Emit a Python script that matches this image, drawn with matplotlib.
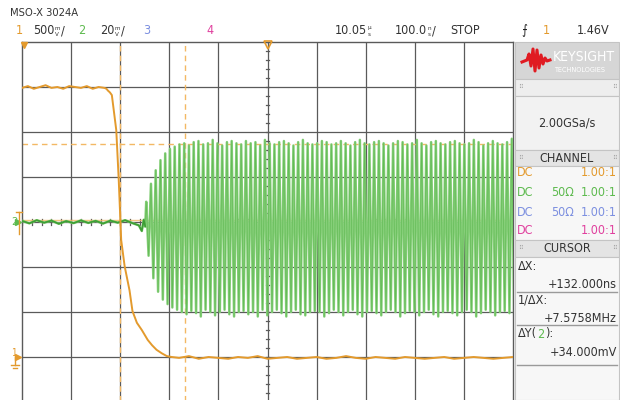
import numpy as np
import matplotlib.pyplot as plt
from matplotlib.patches import Rectangle

# scope settings
ns_per_div = 100.0
ch1_v_per_div = 0.5
ch1_ground_div = -3.0
ch2_mv_per_div = 20.0

# channel 1 (orange): time in ns from screen centre, volts
ch1_t = [-500, -488, -476, -464, -452, -440, -428, -416, -404, -392, -380, -368,
         -356, -344, -332, -328, -325, -321, -317, -308, -303, -298, -291, -281,
         -275, -266, -256, -244, -235, -226, -215, -205, -195, -180, -160, -140,
         -120, -100, -80, -60, -40, -20, 0, 20, 40, 60, 80, 100, 120, 140, 160,
         180, 200, 220, 240, 260, 280, 300, 320, 340, 360, 380, 400, 420, 440,
         460, 480, 500]
ch1_v = [2.99, 3.01, 2.98, 3.00, 3.02, 2.99, 3.00, 2.98, 3.01, 3.00, 2.99, 3.01,
         2.98, 3.00, 2.99, 2.98, 2.96, 2.94, 2.91, 2.52, 1.97, 1.30, 1.01, 0.74,
         0.51, 0.38, 0.30, 0.19, 0.13, 0.08, 0.04, 0.01, 0.00, -0.01, 0.01, -0.02,
         0.00, -0.01, -0.02, 0.00, -0.01, 0.01, -0.02, -0.01, 0.00, -0.02, -0.01,
         0.00, -0.02, -0.01, 0.01, -0.01, -0.02, 0.00, -0.01, -0.02, 0.00, -0.01,
         -0.02, -0.01, 0.00, -0.02, -0.01, 0.00, -0.01, -0.02, -0.01, 0.00]

# channel 2 (green), quiet part before the burst, mV
ch2_quiet_t = [-500, -485, -470, -455, -440, -425, -410, -395, -380, -365, -350,
               -335, -320, -305, -290, -275, -262, -256, -252, -249]
ch2_quiet_mv = [0.5, -0.6, 0.8, -0.3, 0.6, -0.8, 0.4, -0.5, 0.7, -0.4, 0.5,
                -0.7, 0.6, -0.3, 0.8, -0.5, -1.5, -4.0, 1.0, -2.0]

# burst: peak and trough of each cycle, mV
ch2_start_ns = -247.0
ch2_period_ns = 9.67
ch2_highs = [9, 17, 23, 27.5, 30.5, 32.5, 33.5, 34.5, 35, 34, 35.5, 36, 34.5, 35,
             36.5, 35, 34, 35.5, 36, 35, 34.5, 36, 35, 35.5, 34, 36.5, 35, 34.5,
             35.5, 36, 35, 34, 35.5, 36.5, 35, 34.5, 35, 36, 35.5, 34.5, 35, 36,
             35, 34, 35.5, 36.5, 35, 34.5, 35.5, 36, 35, 34, 35, 36, 35.5, 34.5,
             35, 36.5, 35, 34, 35.5, 36, 35, 34.5, 35.5, 36, 35, 34.5, 35, 36.5,
             35.5, 34, 35, 36, 35, 34.5, 35.5, 37]
ch2_lows = [-15, -25, -31, -34.5, -36.5, -38, -39, -40, -41, -39.5, -40.5, -42,
            -39, -40, -41.5, -40, -39, -41, -42, -40, -39.5, -41, -40, -42, -39,
            -41.5, -40, -39, -40.5, -42, -40, -39, -41, -41.5, -40, -39.5, -40,
            -42, -40.5, -39, -40, -41.5, -40, -39, -41, -42, -40, -39.5, -40.5,
            -41.5, -40, -39, -40, -42, -40.5, -39.5, -40, -41.5, -40, -39, -41,
            -42, -40, -39.5, -40.5, -41.5, -40, -39, -40, -42, -40.5, -39, -40,
            -41.5, -40, -39.5, -40.5, -41]

# cursors
x1_ns, x2_ns = -300.0, -168.0
y1_mv, y2_mv = 34.7, 0.7

ORANGE = '#E39A2D'
GREEN = '#5DBA4E'
TRACE2 = '#86CF79'
BLUE = '#7C8FE0'
MAGENTA = '#E0409E'
CURSOR = '#F3B864'
GRID = '#5A5A5A'
TXT = '#333333'

plt.rcParams['font.family'] = ['DejaVu Sans']
plt.rcParams['font.stretch'] = 'condensed'

fig = plt.figure(figsize=(6.2, 4.0), dpi=100)
W, H = 620, 400


def fpos(x0, y0, x1, y1):
    return [x0 / W, 1 - y1 / H, (x1 - x0) / W, (y1 - y0) / H]


ax = fig.add_axes(fpos(22, 42, 513, 402))
ax.set_xlim(-5 * ns_per_div, 5 * ns_per_div)
ax.set_ylim(-4, 4)
ax.set_xticks([])
ax.set_yticks([])
for s in ax.spines.values():
    s.set_color(GRID)
    s.set_linewidth(1.0)

for i in range(-4, 5):
    ax.axvline(i * ns_per_div, color=GRID, lw=0.9, zorder=1)
for j in range(-3, 4):
    ax.axhline(j, color=GRID, lw=0.9, zorder=1)
# minor ticks on the centre axes
for k in np.arange(-5, 5.01, 0.2):
    ax.plot([k * ns_per_div] * 2, [-0.07, 0.07], color=GRID, lw=0.9, zorder=1)
for k in np.arange(-4, 4.01, 0.2):
    ax.plot([-4, 4], [k, k], color=GRID, lw=0.9, zorder=1)

# cursors
ax.axvline(x1_ns, color=CURSOR, lw=1.0, ls=(0, (4, 3)), zorder=2)
ax.axvline(x2_ns, color=CURSOR, lw=1.0, ls=(0, (4, 3)), zorder=2)
ax.axhline(y1_mv / ch2_mv_per_div, color=CURSOR, lw=1.0, ls=(0, (4, 3)), zorder=2)
ax.axhline(y2_mv / ch2_mv_per_div, color=CURSOR, lw=1.0, alpha=0.8, zorder=2)

# channel 2 trace
n = min(len(ch2_highs), len(ch2_lows))
burst_t = []
burst_v = []
for i in range(n):
    burst_t += [ch2_start_ns + i * ch2_period_ns, ch2_start_ns + (i + 0.5) * ch2_period_ns]
    burst_v += [ch2_highs[i], ch2_lows[i]]
t2 = np.array(ch2_quiet_t + burst_t)
v2 = np.array(ch2_quiet_mv + burst_v) / ch2_mv_per_div
ax.plot(t2, v2, color=TRACE2, lw=1.8, zorder=3)
ax.plot(t2, v2, color='#4DAE40', lw=0.5, alpha=0.6, zorder=3)
ax.plot(ch2_quiet_t, np.array(ch2_quiet_mv) / ch2_mv_per_div, color='#3E9E35', lw=1.2, zorder=3)

# channel 1 trace
v1 = ch1_ground_div + np.array(ch1_v) / ch1_v_per_div
ax.plot(ch1_t, v1, color=ORANGE, lw=1.4, zorder=4)

# overlay in pixel coordinates for the screen furniture
ov = fig.add_axes([0, 0, 1, 1])
ov.set_xlim(0, W)
ov.set_ylim(H, 0)
ov.axis('off')
ov.patch.set_alpha(0)
renderer = fig.canvas.get_renderer()


def run(x, y, items, fs=9):
    # items: plain strings or (top, bottom) tuples drawn as tiny stacked units
    for it in items:
        if isinstance(it, tuple):
            a = ov.text(x, y - 3, it[0], fontsize=4.5, color=TXT, va='center')
            b = ov.text(x, y + 3, it[1], fontsize=4.5, color=TXT, va='center')
            w = max(a.get_window_extent(renderer).width, b.get_window_extent(renderer).width)
        else:
            t = ov.text(x, y, it, fontsize=fs, color=TXT, va='center')
            w = t.get_window_extent(renderer).width
        x += w + 0.5


ov.text(10, 13, 'MSO-X 3024A', fontsize=8, color=TXT, va='center')
for x, s, c in [(16, '1', ORANGE), (78, '2', GREEN), (143, '3', BLUE),
                (206, '4', MAGENTA), (543, '1', ORANGE)]:
    ov.text(x, 31, s, fontsize=9, color=c, va='center')
run(33, 31, ['500', ('m', 'V'), '/'])
run(100, 31, ['20', ('m', 'V'), '/'])
run(335, 31, ['10.05', ('µ', 's')])
run(395, 31, ['100.0', ('n', 's'), '/'])
ov.text(450, 31, 'STOP', fontsize=9, color=TXT, va='center')
ov.text(577, 31, '1.46V', fontsize=9, color=TXT, va='center')
ov.text(521, 31, '⨍', fontsize=9, color='#222222', va='center')

# trace markers
ov.text(11, 222, '2', fontsize=8, color=GREEN, va='center')
ov.plot([18], [222], marker='>', ms=5, color=GREEN)
ov.plot([19, 19], [212, 234], color=ORANGE, lw=1.0)
ov.plot([16, 22], [212, 212], color=ORANGE, lw=1.0)
ov.text(11, 353, '1', fontsize=7, color=ORANGE, va='center')
ov.plot([18], [357], marker='>', ms=5, color=ORANGE)
ov.plot([15, 15], [357, 365], color=ORANGE, lw=1.0)
ov.plot([11, 19], [365, 365], color=ORANGE, lw=1.0)
ov.plot([13, 17], [368, 368], color=ORANGE, lw=1.0)
ov.plot([24], [45], marker='v', ms=5, color=ORANGE)
ov.plot([268], [45], marker='v', ms=6, mfc='none', mec=ORANGE, mew=1.2)


# right-hand panel
def box(x0, y0, x1, y1, fc, ec='#C4C4C4'):
    ov.add_patch(Rectangle((x0, y0), x1 - x0, y1 - y0, fc=fc, ec=ec, lw=0.8))


box(515, 42, 619, 79, '#D6D6D6')
box(515, 79, 619, 96, '#EEEEEE')
box(515, 96, 619, 150, '#F2F2F2')
box(515, 150, 619, 166, '#E4E4E4')
box(515, 166, 619, 240, '#F7F7F7')
box(515, 240, 619, 257, '#E4E4E4')
box(515, 257, 619, 400, '#F7F7F7')

logo_x = [522, 527, 529, 531, 533, 535, 537, 539, 541, 543, 545, 547, 550]
logo_y = [62, 60, 54, 66, 49, 71, 50, 68, 55, 64, 58, 61, 60]
ov.plot(logo_x, logo_y, color='#E01B22', lw=2.2, solid_joinstyle='round')
ov.text(553, 57, 'KEYSIGHT', fontsize=10, color='white', va='center')
ov.text(554, 70, 'TECHNOLOGIES', fontsize=5.2, color='white', va='center')

for y in (87, 158, 248):
    ov.text(518, y, '⠿', fontsize=5, color='#A0A0A0', va='center')
    ov.text(612, y, '⠿', fontsize=5, color='#A0A0A0', va='center')
ov.text(567, 123, '2.00GSa/s', fontsize=9, color=TXT, ha='center', va='center')
ov.text(567, 158, 'CHANNEL', fontsize=9, color=TXT, ha='center', va='center')

rows = [(172, ORANGE, ''), (192, GREEN, '50Ω'), (212, BLUE, '50Ω'), (230, MAGENTA, '')]
for y, c, imp in rows:
    ov.text(517, y, 'DC', fontsize=9, color=c, va='center')
    ov.text(562, y, imp, fontsize=9, color=c, va='center', ha='center')
    ov.text(617, y, '1.00:1', fontsize=9, color=c, va='center', ha='right')

ov.text(567, 248, 'CURSOR', fontsize=9, color=TXT, ha='center', va='center')
ov.text(518, 267, 'ΔX:', fontsize=9, color=TXT, va='center')
ov.text(617, 285, '+132.000ns', fontsize=9, color=TXT, va='center', ha='right')
ov.text(518, 300, '1/ΔX:', fontsize=9, color=TXT, va='center')
ov.text(617, 318, '+7.5758MHz', fontsize=9, color=TXT, va='center', ha='right')
t_a = ov.text(518, 334, 'ΔY(', fontsize=9, color=TXT, va='center')
xa = t_a.get_window_extent(renderer).x1
t_b = ov.text(xa + 0.5, 334, '2', fontsize=9, color=GREEN, va='center')
xb = t_b.get_window_extent(renderer).x1
ov.text(xb + 0.5, 334, '):', fontsize=9, color=TXT, va='center')
ov.text(617, 352, '+34.000mV', fontsize=9, color=TXT, va='center', ha='right')
for y in (292, 325, 365):
    ov.plot([517, 617], [y, y], color='#9A9A9A', lw=1.0)

fig.savefig('out.png', dpi=100)
